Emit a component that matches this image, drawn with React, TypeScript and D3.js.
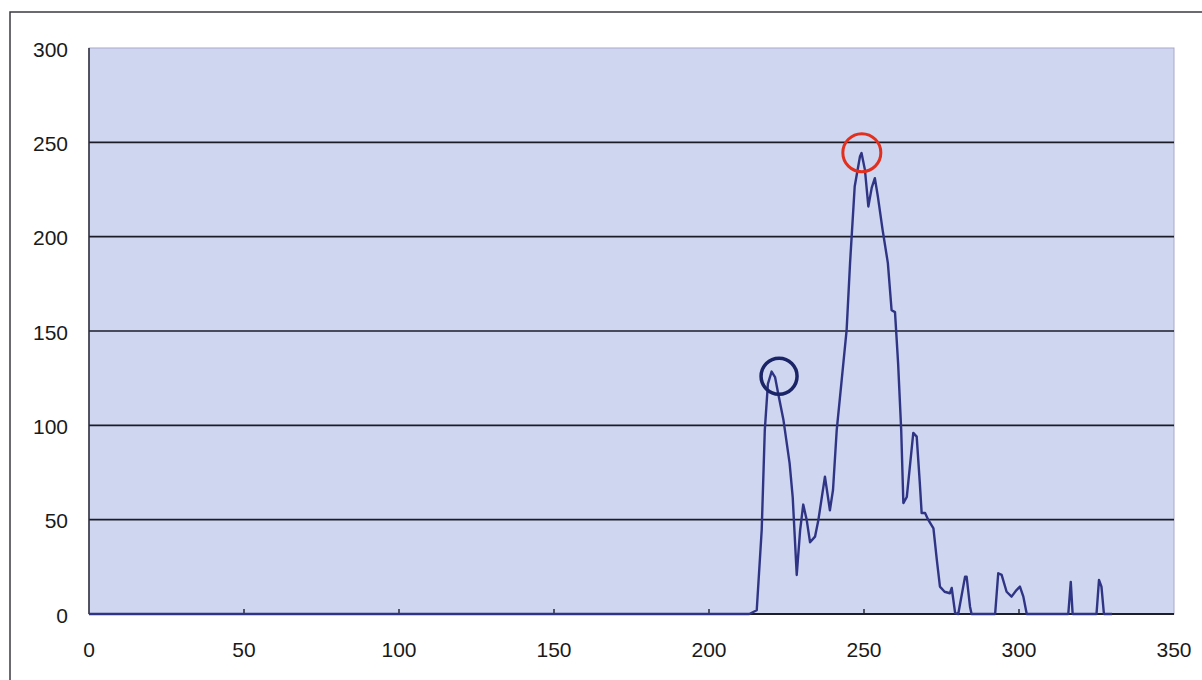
import React, { useEffect, useRef } from 'react';
import * as d3 from 'd3';

// traced profile (x position, intensity)
const xs = [0, 213, 215.4, 217, 218, 219, 220.2, 221.3, 222.3, 224, 226, 227, 228.3, 229.4, 230.4, 231.5, 232.6, 234.2, 235.3, 237.4, 239, 240, 241.2, 242.8, 244.4, 245.5, 247, 248.7, 249.2, 250.3, 251.4, 252.5, 253.5, 254.5, 256, 257.7, 258.9, 260, 261, 262, 262.7, 263.8, 265.9, 267, 268, 268.6, 269.7, 270.7, 272.4, 273.5, 274.5, 276, 277.7, 278.3, 279.4, 280.4, 282.6, 283.1, 284.2, 284.7, 292.3, 293.3, 294.4, 296, 297.6, 299.2, 300.3, 301.4, 302.5, 315.9, 316.7, 317.3, 325, 325.8, 326.6, 327.4, 330];
const ys = [0, 0, 2, 44.5, 97.5, 122, 128.5, 125.6, 117, 103, 80, 62, 20.7, 44.5, 58, 50, 38, 41, 50, 72.8, 55, 65.7, 97.5, 124, 150.6, 186, 226.6, 242.5, 244.3, 235.4, 216, 226, 231, 221, 203.6, 186, 161, 160, 133, 97.5, 58.8, 62, 96, 94, 69.5, 53.5, 53.5, 50, 45.4, 28.6, 14.5, 11.8, 11, 13.8, 0.5, 0, 19.8, 19.8, 3.9, 0, 0, 21.6, 20.7, 11.8, 9.2, 12.7, 14.5, 9.2, 0, 0, 17, 0, 0, 18, 14.5, 0, 0];

const xTicks = [0, 50, 100, 150, 200, 250, 300, 350];
const yTicks = [0, 50, 100, 150, 200, 250, 300];

// highlighted peaks
const redPeak = { x: 249.3, y: 244.5 };
const bluePeak = { x: 222.6, y: 126 };

export default function App() {
    const ref = useRef<SVGSVGElement | null>(null);

    useEffect(() => {
        const svg = d3.select(ref.current);
        svg.selectAll('*').remove();
        const width = 1202, height = 680;
        const margin = { top: 48, right: 28, bottom: 66, left: 89 };
        const x = d3.scaleLinear().domain([0, 350]).range([margin.left, width - margin.right]);
        const y = d3.scaleLinear().domain([0, 300]).range([height - margin.bottom, margin.top]);

        // outer frame
        svg.append('path')
            .attr('d', `M10,${height} L10,12 L${width},12`)
            .attr('fill', 'none')
            .attr('stroke', '#3a3a42')
            .attr('stroke-width', 1.5);

        // plot background
        svg.append('rect')
            .attr('x', x(0)).attr('y', y(300))
            .attr('width', x(350) - x(0)).attr('height', y(0) - y(300))
            .attr('fill', '#ced6f0')
            .attr('stroke', '#aaa8cc')
            .attr('stroke-width', 1);

        // grid lines
        svg.append('g').selectAll('line').data(yTicks.filter(t => t > 0 && t < 300)).join('line')
            .attr('x1', x(0)).attr('x2', x(350))
            .attr('y1', d => y(d)).attr('y2', d => y(d))
            .attr('stroke', '#1c1c28')
            .attr('stroke-width', 1.6);

        // left axis line
        svg.append('line')
            .attr('x1', x(0)).attr('x2', x(0))
            .attr('y1', y(0)).attr('y2', y(300))
            .attr('stroke', '#2a2a36').attr('stroke-width', 1.5);

        // bottom axis with inside ticks
        svg.append('line')
            .attr('x1', x(0)).attr('x2', x(350))
            .attr('y1', y(0)).attr('y2', y(0))
            .attr('stroke', '#1e1e2a').attr('stroke-width', 1.8);
        svg.append('g').selectAll('line').data(xTicks.slice(1, -1)).join('line')
            .attr('x1', d => x(d)).attr('x2', d => x(d))
            .attr('y1', y(0)).attr('y2', y(0) - 5)
            .attr('stroke', '#1e1e2a').attr('stroke-width', 1.4);

        const font = 'Liberation Sans, Arial, sans-serif';
        svg.append('g').selectAll('text').data(yTicks).join('text')
            .attr('x', 68)
            .attr('y', d => y(d) + 3)
            .attr('text-anchor', 'end')
            .attr('dominant-baseline', 'middle')
            .attr('font-family', font)
            .attr('font-size', 21)
            .attr('fill', '#1a1a1a')
            .text(d => d);

        svg.append('g').selectAll('text').data(xTicks).join('text')
            .attr('x', d => x(d))
            .attr('y', y(0) + 37)
            .attr('text-anchor', 'middle')
            .attr('dominant-baseline', 'middle')
            .attr('font-family', font)
            .attr('font-size', 21)
            .attr('fill', '#1a1a1a')
            .text(d => d);

        const data = xs.map((v, i) => [v, ys[i]] as [number, number]);
        const line = d3.line<[number, number]>()
            .x(d => x(d[0]))
            .y(d => y(d[1]));

        svg.append('path')
            .datum(data)
            .attr('fill', 'none')
            .attr('stroke', '#2f3584')
            .attr('stroke-width', 2.4)
            .attr('stroke-linejoin', 'round')
            .attr('d', line);

        svg.append('circle')
            .attr('cx', x(redPeak.x)).attr('cy', y(redPeak.y))
            .attr('r', 19)
            .attr('fill', 'none')
            .attr('stroke', '#e3301e')
            .attr('stroke-width', 3);

        svg.append('circle')
            .attr('cx', x(bluePeak.x)).attr('cy', y(bluePeak.y))
            .attr('r', 18)
            .attr('fill', 'none')
            .attr('stroke', '#1b2466')
            .attr('stroke-width', 3.5);
    }, []);

    return <svg ref={ref} width={1202} height={680} style={{ position: 'absolute', left: 0, top: 0, background: '#fff' }} />;
}
